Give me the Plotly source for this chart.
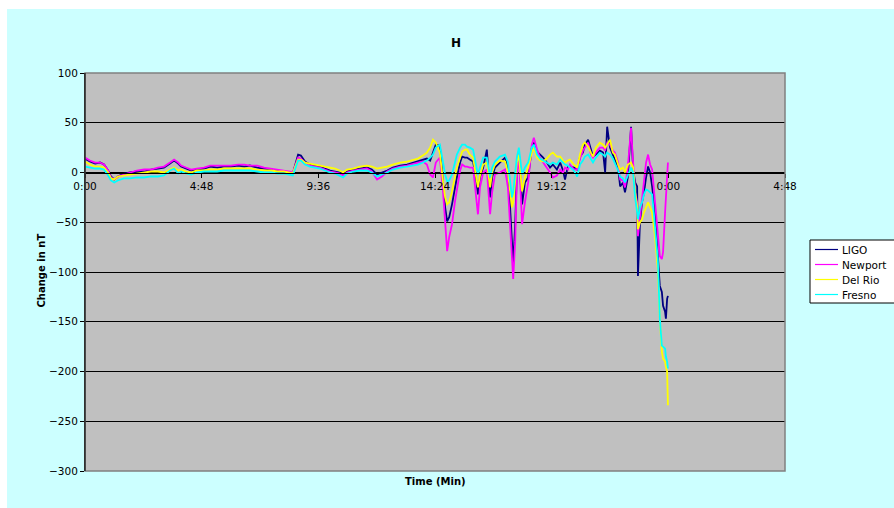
import plotly.graph_objects as go

# Time in minutes from start
time_min = [0, 12, 25, 37, 47, 57, 64, 72, 81, 96, 111, 128, 146, 163, 180, 195, 210, 220, 230, 237,
            249, 262, 276, 294, 309, 326, 343, 360, 378, 393, 407, 425, 442, 459, 476, 491, 506, 513, 521, 526,
            533, 543, 555, 568, 580, 592, 605, 617, 629, 637, 647, 662, 679, 696, 708, 721, 733, 746, 760, 778,
            795, 810, 822, 834, 844, 852, 859, 866, 876, 884, 889, 894, 899, 906, 913, 918, 926, 931, 938, 943,
            950, 958, 965, 970, 975, 983, 992, 1000, 1005, 1012, 1024, 1037, 1044, 1049, 1054, 1057, 1062, 1066, 1071, 1079,
            1086, 1094, 1103, 1108, 1116, 1123, 1131, 1140, 1148, 1155, 1165, 1173, 1180, 1185, 1192, 1197, 1207, 1215, 1222, 1229,
            1234, 1242, 1249, 1254, 1261, 1271, 1279, 1284, 1289, 1296, 1303, 1308, 1316, 1321, 1328, 1333, 1340, 1348, 1353, 1358,
            1363, 1365, 1370, 1375, 1380, 1385, 1390, 1395, 1400, 1407, 1414, 1419, 1424, 1427, 1432, 1434, 1437, 1439]

ligo = [14, 11, 9, 10, 8, 2, -4, -7, -4, -1, 0, 1, 1, 3, 4, 5, 9, 12, 9, 6,
        4, 2, 3, 4, 6, 5, 6, 6, 7, 6, 7, 5, 4, 3, 2, 1, 0, -1, 10, 18,
        17, 11, 8, 7, 6, 4, 2, 1, 0, -2, 1, 3, 4, 5, 3, -2, 0, 2, 5, 7,
        8, 10, 11, 13, 14, 12, 20, 28, 27, -10, -35, -49, -45, -32, -15, -5, 10, 16, 15, 15,
        13, 11, -5, -22, -5, 5, 23, -25, -5, 5, 10, 15, 5, -30, -69, -92, -52, 0, 21, -32,
        -10, -5, 25, 30, 21, 18, 15, 10, 5, 8, 3, 10, 2, -7, 6, 6, 5, 3, 16, 20,
        28, 33, 22, 16, 18, 22, 20, 0, 46, 25, 18, 13, 5, -14, -10, -20, -5, 46, 3, -10,
        -14, -104, -50, -30, -20, -5, 6, 0, -14, -40, -80, -114, -120, -134, -140, -147, -127, -124]

newport = [15, 12, 10, 10, 8, 2, -5, -7, -4, -2, 0, 2, 3, 3, 5, 6, 10, 13, 10, 7,
           5, 3, 4, 5, 7, 7, 7, 7, 8, 8, 7, 7, 5, 4, 3, 2, 1, 0, 9, 15,
           14, 10, 7, 6, 5, 3, 1, 0, -1, -3, 0, 2, 3, 4, 1, -7, -4, 1, 4, 6,
           7, 9, 10, 11, 8, -2, -5, 10, 15, -20, -45, -79, -65, -52, -30, -19, 2, 8, 6, 6,
           5, 5, -20, -42, -15, 0, 3, -42, -20, -2, 0, 3, -15, -50, -85, -107, -69, -5, 20, -52,
           -30, -10, 28, 35, 23, 15, 10, 5, 0, -5, -3, 3, 0, 5, 3, 8, 3, 3, 14, 22,
           25, 30, 18, 15, 20, 25, 25, 22, 30, 28, 22, 20, 10, -7, -8, -15, 5, 45, 10, -20,
           -30, -64, -45, -25, -5, 10, 18, 8, 3, -30, -60, -84, -87, -80, -40, -25, -5, 10]

del_rio = [11, 8, 6, 6, 5, 0, -6, -7, -4, -3, -2, -1, 0, 1, 1, 0, 3, 5, 2, 3,
           1, 0, 2, 2, 3, 3, 4, 4, 4, 4, 4, 3, 2, 2, 1, 1, 0, -1, 8, 13,
           13, 10, 9, 8, 7, 6, 5, 4, 2, 0, 3, 4, 6, 7, 6, 4, 5, 6, 8, 10,
           11, 13, 14, 17, 20, 25, 33, 30, 20, -10, -25, -32, -30, -19, -5, 5, 15, 21, 23, 23,
           18, 15, -3, -15, -3, 8, 10, -15, 0, 8, 12, 11, 0, -20, -35, -30, -10, 10, 18, -19,
           -5, 5, 20, 25, 15, 12, 11, 14, 18, 20, 16, 16, 12, 10, 12, 13, 8, 5, 18, 28,
           30, 26, 20, 16, 25, 30, 28, 25, 28, 33, 20, 18, 8, 3, 5, 0, 8, 10, 5, -20,
           -34, -57, -50, -47, -40, -34, -30, -35, -40, -64, -97, -147, -180, -187, -190, -195, -200, -234]

fresno = [6, 5, 4, 4, 3, -3, -8, -10, -8, -6, -6, -5, -5, -4, -4, -3, 2, 4, -1, 1,
          -1, -2, 0, 1, 1, 1, 2, 2, 2, 2, 2, 1, 0, 0, -1, -1, -2, -3, 6, 12,
          12, 8, 6, 5, 4, 2, 0, -1, -3, -5, -1, 1, 2, 2, 0, -4, -2, 0, 3, 5,
          6, 7, 8, 10, 12, 15, 18, 25, 28, 10, -2, -9, -8, -2, 10, 18, 25, 28, 28, 26,
          25, 23, 8, -2, 5, 15, 15, -5, 5, 11, 16, 18, 10, -10, -25, -20, -2, 15, 25, -2,
          5, 10, 25, 28, 18, 14, 12, 10, 8, 10, 8, 13, 10, 8, 7, 5, 2, -4, 8, 12,
          16, 18, 14, 10, 15, 20, 18, 16, 20, 18, 14, 10, 2, -4, -6, -10, -2, 5, 0, -25,
          -40, -47, -35, -30, -22, -17, -18, -20, -22, -54, -87, -147, -174, -175, -177, -185, -190, -197]

series_names = ["LIGO", "Newport", "Del Rio", "Fresno"]
series_values = [ligo, newport, del_rio, fresno]
series_colors = ["#000080", "#FF00FF", "#FFFF00", "#00FFFF"]

x_tick_vals = [0, 288, 576, 864, 1152, 1440, 1728]
x_tick_text = ["0:00", "4:48", "9:36", "14:24", "19:12", "0:00", "4:48"]
y_tick_vals = [100, 50, 0, -50, -100, -150, -200, -250, -300]

FONT = "DejaVu Sans, Arial, sans-serif"

fig = go.Figure()
for name, vals, col in zip(series_names, series_values, series_colors):
    fig.add_trace(go.Scatter(x=time_min, y=vals, mode="lines", name=name,
                             line=dict(color=col, width=1.8), showlegend=False))

W, H = 894, 508
L, R, T, B = 85, 785, 73, 471
pw, ph = R - L, B - T

def px(xp):
    return (xp - L) / pw

def py(yp):
    return (B - yp) / ph

shapes = [
    dict(type="rect", xref="paper", yref="paper", x0=0, x1=1, y0=0, y1=1,
         line=dict(color="#808080", width=1.5), fillcolor="rgba(0,0,0,0)", layer="above"),
    dict(type="line", xref="paper", yref="paper", x0=0, x1=0, y0=0, y1=1,
         line=dict(color="black", width=1), layer="above"),
    dict(type="rect", xref="paper", yref="paper", x0=px(-10), x1=px(W + 10), y0=py(9), y1=py(-10),
         line=dict(width=0), fillcolor="white", layer="below"),
    dict(type="rect", xref="paper", yref="paper", x0=px(-10), x1=px(7), y0=py(W), y1=py(-10),
         line=dict(width=0), fillcolor="white", layer="below"),
    # legend box
    dict(type="rect", xref="paper", yref="paper", x0=px(810), x1=px(900), y0=py(303), y1=py(240),
         line=dict(color="black", width=1), fillcolor="white", layer="above"),
]

annotations = [
    dict(text="<b>H</b>", xref="paper", yref="paper", x=px(456), y=py(34),
         showarrow=False, font=dict(family=FONT, size=12, color="black")),
    dict(text="<b>Time (Min)</b>", xref="paper", yref="paper", x=px(435), y=py(489),
         showarrow=False, font=dict(family=FONT, size=10, color="black")),
    dict(text="<b>Change in nT</b>", xref="paper", yref="paper", x=px(33), y=py(271),
         showarrow=False, textangle=-90, font=dict(family=FONT, size=10, color="black")),
]

leg_y0, leg_dy = 249.5, 15
for i, (name, col) in enumerate(zip(series_names, series_colors)):
    yy = leg_y0 + i * leg_dy
    shapes.append(dict(type="line", xref="paper", yref="paper", x0=px(815), x1=px(838),
                       y0=py(yy), y1=py(yy), line=dict(color=col, width=1.2), layer="above"))
    annotations.append(dict(text=name, xref="paper", yref="paper", x=px(840), y=py(yy),
                            xanchor="left", yanchor="middle", showarrow=False,
                            font=dict(family=FONT, size=10.5, color="black")))

fig.update_layout(
    width=W, height=H,
    margin=dict(l=L, r=W - R, t=T, b=H - B, pad=0, autoexpand=False),
    paper_bgcolor="#CCFFFF",
    plot_bgcolor="#C0C0C0",
    font=dict(family=FONT, size=10, color="black"),
    showlegend=False,
    xaxis=dict(range=[0, 1728], tickmode="array", tickvals=x_tick_vals, ticktext=x_tick_text,
               showgrid=False, zeroline=False, showline=True, linecolor="black", linewidth=1,
               ticks="outside", ticklen=4, tickcolor="black",
               anchor="free", position=0.75,
               tickfont=dict(family=FONT, size=10.5, color="black")),
    yaxis=dict(range=[-300, 100], tickmode="array", tickvals=y_tick_vals,
               showgrid=True, gridcolor="black", gridwidth=1, zeroline=False,
               showline=True, linecolor="black", linewidth=1,
               ticks="outside", ticklen=4, tickcolor="black",
               tickfont=dict(family=FONT, size=10.5, color="black")),
    shapes=shapes,
    annotations=annotations,
)

fig.write_html("out.html")
